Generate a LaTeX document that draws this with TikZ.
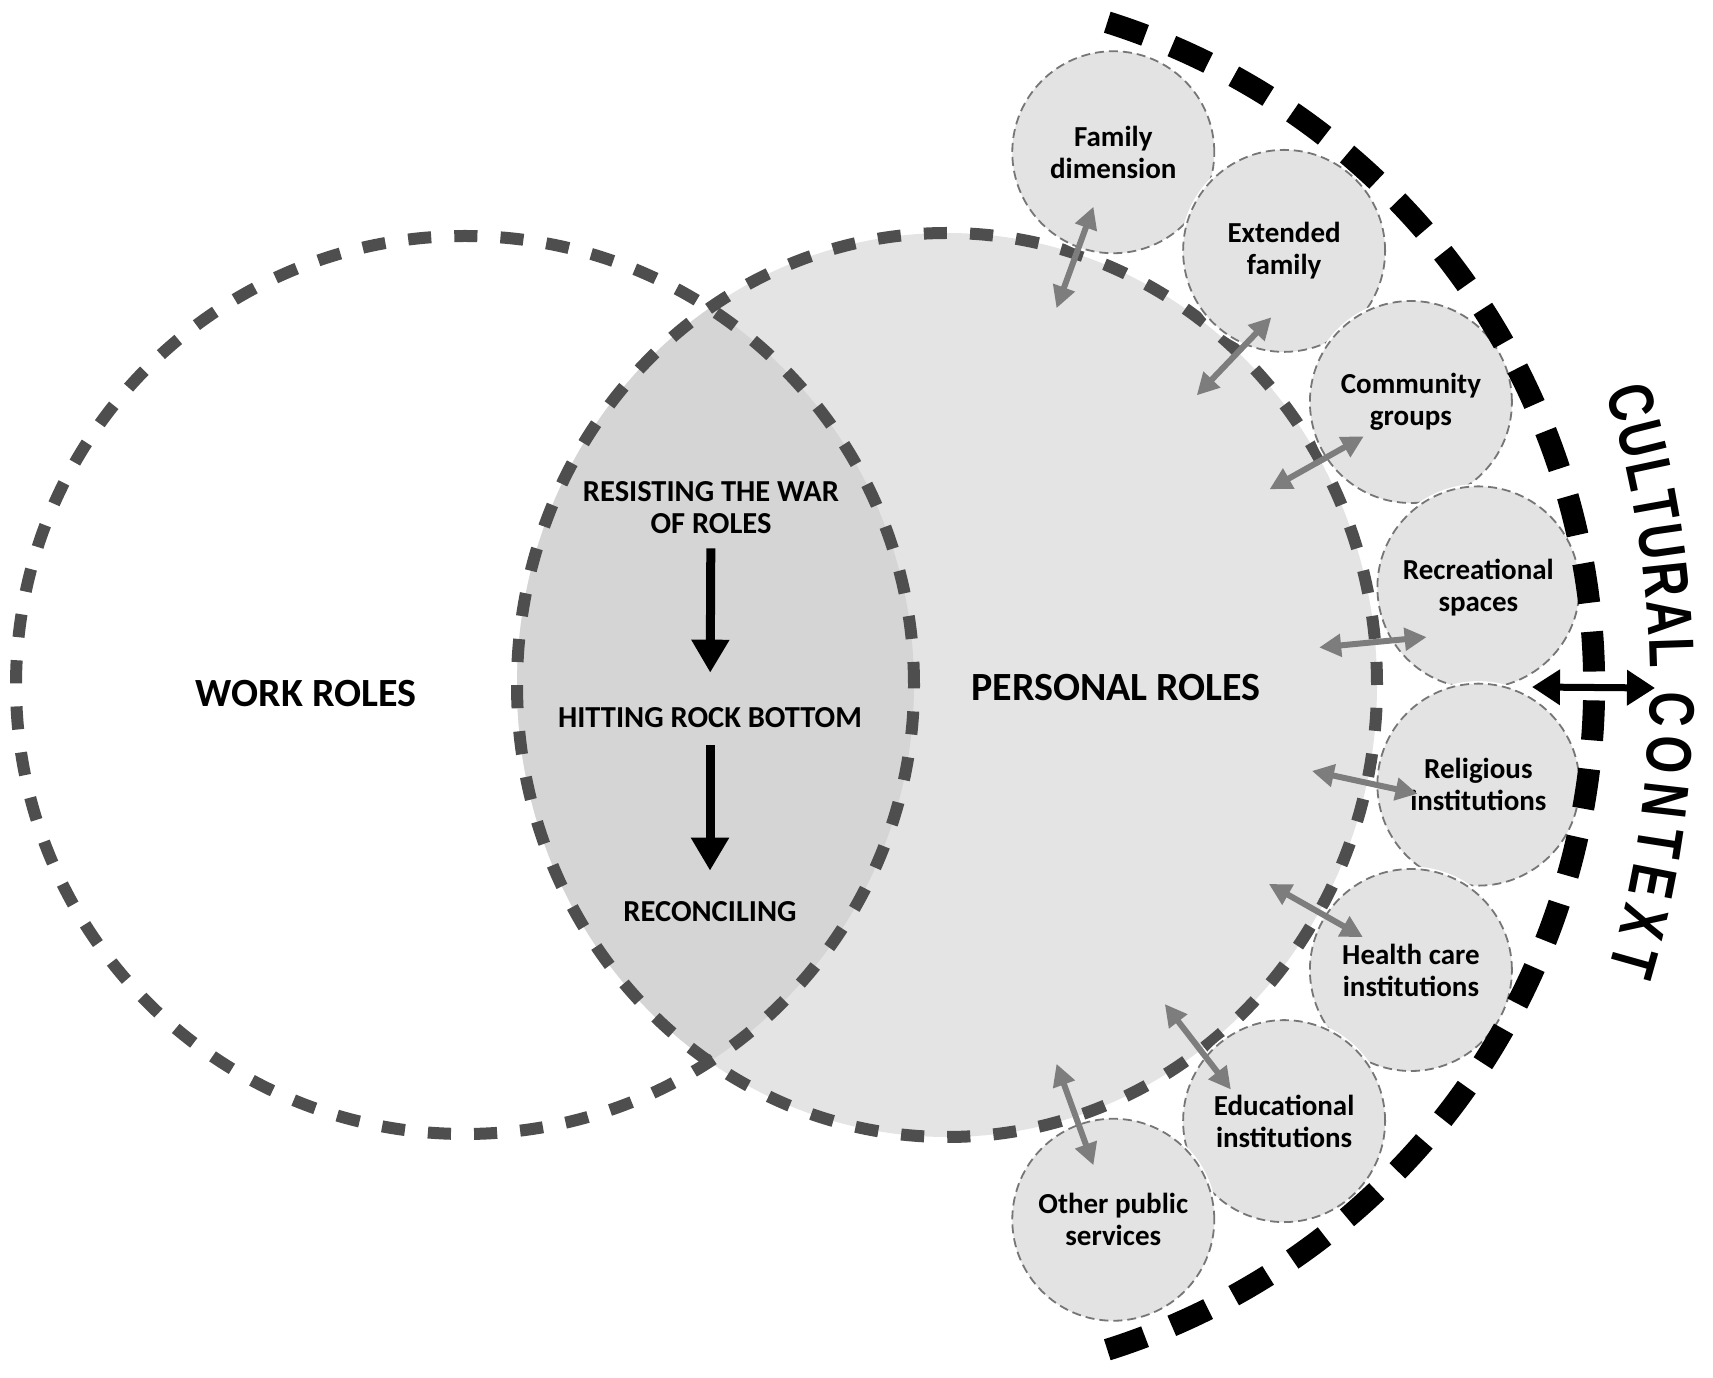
\documentclass[tikz,border=0pt]{standalone}
\usepackage{fontspec}
\setmainfont{Carlito}
\newfontfamily\ctxfont[FakeStretch=0.76]{Liberation Sans Bold}
\newcommand\ctxstyle{\fontsize{64}{64}\ctxfont}
\usetikzlibrary{arrows.meta,calc,decorations.text}

\begin{document}
\begin{tikzpicture}[x=1pt,y=1pt,
    rim/.style={draw=rimgray,line width=12pt,dash pattern=on 23.1pt off 23.1pt},
    ctxrim/.style={draw=black,line width=22pt,dash pattern=on 40pt off 28.86pt},
    subcircle/.style={circle,minimum size=202pt,inner sep=0pt,fill=subfill,
        draw=subrim,line width=1.8pt,dash pattern=on 9pt off 5pt,
        preaction={draw=white,line width=5pt,solid},
        align=center,font=\bfseries\fontsize{29}{32}\selectfont},
    link/.style={linkgray,line width=6pt,
        {Triangle[length=22pt,width=22pt]}-{Triangle[length=22pt,width=22pt]}},
    ctxlink/.style={black,line width=7pt,
        {Triangle[length=28pt,width=34pt]}-{Triangle[length=28pt,width=34pt]}},
    flow/.style={black,line width=9pt,-{Triangle[length=33pt,width=36pt]}},
    biglabel/.style={font=\bfseries\fontsize{40}{44}\selectfont},
    stagelabel/.style={align=center,inner sep=0pt,font=\bfseries\fontsize{30.5}{32}\selectfont}]
    % Define colors for the regions
    \definecolor{persfill}{RGB}{228,228,228}
    \definecolor{lensfill}{RGB}{213,213,213}
    \definecolor{rimgray}{RGB}{78,78,78}
    \definecolor{subfill}{RGB}{227,227,227}
    \definecolor{subrim}{RGB}{118,118,118}
    \definecolor{linkgray}{RGB}{125,125,125}

    % Page and centres
    \fill[white] (0,0) rectangle (1713,1377);
    \useasboundingbox (0,0) rectangle (1713,1377);
    \coordinate (wc) at (465,692);
    \coordinate (pc) at (947,692);
    \coordinate (ac) at (919,691);
    \coordinate (bc) at (898,691);
    \coordinate (tc) at (655,691);

    % Personal roles area and the overlap with work roles
    \fill[persfill] (pc) ellipse [x radius=430, y radius=452];
    \begin{scope}
        \clip (wc) circle [radius=449];
        \fill[lensfill] (pc) ellipse [x radius=430, y radius=452];
    \end{scope}
    \draw[rim] (wc) circle [radius=449];
    \draw[rim] (pc) ellipse [x radius=430, y radius=452];

    % Surrounding services
    \foreach \nm/\ang/\txt in {fam/70/{Family\\dimension}, ext/50/{Extended\\family},
        com/30/{Community\\groups}, rec/10/{Recreational\\spaces},
        rel/-10/{Religious\\institutions}, hea/-30/{Health care\\institutions},
        edu/-50/{Educational\\institutions}, oth/-70/{Other public\\services}} {
        \node[subcircle] (\nm) at ($(ac)+(\ang:568)$) {\txt};
    }

    % Cultural context rim
    \draw[ctxrim] ($(bc)+(72.5:696)$) arc [start angle=72.5, end angle=-72.5, radius=696];

    % Links between personal roles and the services
    \foreach \i/\ang in {1/70,2/46.3,3/29.3,4/5.5,5/-12.2,6/-29.5,7/-52.3,8/-70} {
        \coordinate (p\i) at ($(ac)+(\ang:402)$);
        \coordinate (q\i) at ($(ac)+(\ang:510)$);
        \draw[link] (p\i) -- (q\i);
    }
    \coordinate (cl) at (1532,690);
    \coordinate (cr) at (1655,689);
    \draw[ctxlink] (cl) -- (cr);

    % Labels
    \node[biglabel] (work) at (306,683) {WORK ROLES};
    \node[biglabel] (pers) at (1116,689) {PERSONAL ROLES};
    \node[stagelabel] (resist) at (711,869) {RESISTING THE WAR\\OF ROLES};
    \node[stagelabel] (hit) at (710,659) {HITTING ROCK BOTTOM};
    \node[stagelabel] (recon) at (710,465) {RECONCILING};
    \draw[flow,shorten <=14pt,shorten >=35pt] (resist) -- (hit);
    \draw[flow,shorten <=17pt,shorten >=31pt] (hit) -- (recon);

    % Cultural context text along the rim
    \path[decorate,decoration={text along path,text align={fit to path},
        text={|\ctxstyle|CULTURAL}}]
        ($(tc)+(17.2:995)$) arc [start angle=17.2, end angle=1.0, radius=995];
    \path[decorate,decoration={text along path,text align={fit to path},
        text={|\ctxstyle|CONTEXT}}]
        ($(tc)+(-0.3:995)$) arc [start angle=-0.3, end angle=-16.6, radius=995];
\end{tikzpicture}
\end{document}
